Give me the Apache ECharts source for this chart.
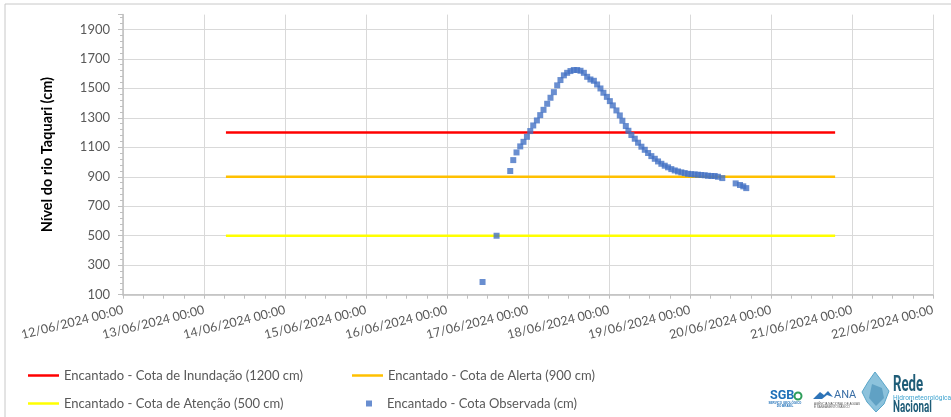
<!DOCTYPE html>
<html>
<head>
<meta charset="utf-8">
<script src="https://cdn.jsdelivr.net/npm/echarts@6/dist/echarts.min.js"></script>
<style>
  html, body { margin: 0; padding: 0; background: #fff; }
  #main { width: 951px; height: 417px; }
</style>
</head>
<body>
<div id="main"></div>
<script>
// cotas (limiares) do posto Encantado
const thresholdNames = [
  'Encantado - Cota de Inundação (1200 cm)',
  'Encantado - Cota de Alerta (900 cm)',
  'Encantado - Cota de Atenção (500 cm)'
];
const thresholdValues = [1200, 900, 500];
const thresholdColors = ['#ff0000', '#ffc000', '#ffff00'];
const thresholdPeriod = ['2024-06-13 06:30', '2024-06-20 19:00'];

const obsName = 'Encantado - Cota Observada (cm)';
const obsTimes = [
  '2024-06-16 10:32', '2024-06-16 14:41', '2024-06-16 18:44', '2024-06-16 19:38',
  '2024-06-16 20:36', '2024-06-16 21:42', '2024-06-16 22:40', '2024-06-16 23:41',
  '2024-06-17 00:40', '2024-06-17 01:33', '2024-06-17 02:38', '2024-06-17 03:37',
  '2024-06-17 04:36', '2024-06-17 05:41', '2024-06-17 06:40', '2024-06-17 07:40',
  '2024-06-17 08:39', '2024-06-17 09:37', '2024-06-17 10:38', '2024-06-17 11:36',
  '2024-06-17 12:35', '2024-06-17 13:35', '2024-06-17 14:34', '2024-06-17 15:33',
  '2024-06-17 16:33', '2024-06-17 17:32', '2024-06-17 18:30', '2024-06-17 19:31',
  '2024-06-17 20:29', '2024-06-17 21:28', '2024-06-17 22:21', '2024-06-17 23:22',
  '2024-06-18 00:15', '2024-06-18 01:08', '2024-06-18 02:12', '2024-06-18 03:12',
  '2024-06-18 03:58', '2024-06-18 04:59', '2024-06-18 05:45', '2024-06-18 06:38',
  '2024-06-18 07:38', '2024-06-18 08:37', '2024-06-18 09:36', '2024-06-18 10:36',
  '2024-06-18 11:35', '2024-06-18 12:33', '2024-06-18 13:34', '2024-06-18 14:32',
  '2024-06-18 15:31', '2024-06-18 16:31', '2024-06-18 17:30', '2024-06-18 18:28',
  '2024-06-18 19:29', '2024-06-18 20:27', '2024-06-18 21:26', '2024-06-18 22:26',
  '2024-06-18 23:25', '2024-06-19 00:24', '2024-06-19 01:24', '2024-06-19 02:23',
  '2024-06-19 03:21', '2024-06-19 04:22', '2024-06-19 05:20', '2024-06-19 06:19',
  '2024-06-19 07:19', '2024-06-19 08:17', '2024-06-19 09:34',
  '2024-06-19 13:32', '2024-06-19 14:49', '2024-06-19 15:47', '2024-06-19 16:40'
];
const obsLevels = [
  186, 500, 939, 1013,
  1065, 1106, 1137, 1171,
  1210, 1248, 1282, 1318,
  1354, 1395, 1436, 1474,
  1520, 1556, 1588, 1605,
  1617, 1624, 1624, 1619,
  1605, 1578, 1560, 1551,
  1526, 1499, 1470, 1442,
  1413, 1384, 1350, 1316,
  1280, 1244, 1212, 1183,
  1158, 1131, 1104, 1083,
  1061, 1040, 1022, 1004,
  988, 975, 964, 952,
  943, 936, 930, 925,
  920, 918, 916, 914,
  912, 910, 907, 905,
  905, 900, 891,
  855, 844, 835, 823
];

const xStart = '2024-06-12 00:00';
const xEnd = '2024-06-22 00:00';
const yMin = 100, yMax = 2000, yStep = 200;

const DAY = 86400000;
function ts(s) { return new Date(s.replace(' ', 'T') + ':00Z').getTime(); }
function pad(n) { return (n < 10 ? '0' : '') + n; }
function fmtDate(v) {
  const d = new Date(v);
  return pad(d.getUTCDate()) + '/' + pad(d.getUTCMonth() + 1) + '/' + d.getUTCFullYear() +
    ' ' + pad(d.getUTCHours()) + ':' + pad(d.getUTCMinutes());
}

const font = 'Lato, "Open Sans", sans-serif';
const gray = '#595959';
const axisGray = '#bfbfbf';
const logoFont = 'Roboto, "Liberation Sans", sans-serif';

let myChart = echarts.init(document.getElementById('main'), null, { renderer: 'canvas' });

let series = thresholdNames.map((name, i) => ({
  name: name,
  type: 'line',
  data: thresholdPeriod.map(t => [ts(t), thresholdValues[i]]),
  showSymbol: false,
  symbol: 'none',
  color: thresholdColors[i],
  lineStyle: { color: thresholdColors[i], width: 2.5 },
  z: 2
}));
series.push({
  name: obsName,
  type: 'scatter',
  data: obsTimes.map((t, i) => [ts(t), obsLevels[i]]),
  symbol: 'rect',
  symbolSize: 6,
  itemStyle: { color: '#4472c4' },
  z: 3
});

function lineLegend(name, left, top) {
  return {
    left: left, top: top,
    padding: 0,
    itemWidth: 31, itemHeight: 2.5,
    icon: 'rect',
    textStyle: { color: gray, fontSize: 13, fontFamily: font },
    selectedMode: false,
    data: [name]
  };
}

let option = {
  animation: false,
  backgroundColor: '#fff',
  textStyle: { fontFamily: font },
  grid: { left: 123, right: 18, top: 14.6, bottom: 122.3, containLabel: false },
  legend: [
    lineLegend(thresholdNames[0], 28, 369),
    lineLegend(thresholdNames[2], 28, 397),
    lineLegend(thresholdNames[1], 352, 369),
    {
      left: 366, top: 397,
      padding: 0,
      itemWidth: 6, itemHeight: 6,
      icon: 'rect',
      textStyle: { color: gray, fontSize: 13, fontFamily: font, padding: [0, 0, 0, 10] },
      selectedMode: false,
      data: [obsName]
    }
  ],
  xAxis: {
    type: 'value',
    min: ts(xStart),
    max: ts(xEnd),
    interval: DAY,
    axisLine: { show: true, lineStyle: { color: axisGray, width: 1.5 } },
    axisTick: { show: true, length: 4, lineStyle: { color: axisGray } },
    minorTick: { show: true, splitNumber: 4, length: 4, lineStyle: { color: axisGray } },
    splitLine: { show: true, lineStyle: { color: '#d9d9d9', width: 1 } },
    axisLabel: {
      rotate: 14,
      margin: 15,
      color: gray,
      fontSize: 12.5,
      fontFamily: font,
      formatter: v => fmtDate(v)
    }
  },
  yAxis: {
    type: 'value',
    min: yMin,
    max: yMax,
    interval: yStep,
    name: 'Nível do rio Taquari (cm)',
    nameLocation: 'middle',
    nameGap: 68,
    nameTextStyle: { color: '#000', fontWeight: 'bold', fontSize: 14.5, fontFamily: font },
    axisLine: { show: true, lineStyle: { color: axisGray, width: 1.5 } },
    axisTick: { show: true, length: 5, lineStyle: { color: axisGray } },
    minorTick: { show: true, splitNumber: 5, length: 3, lineStyle: { color: axisGray } },
    splitLine: { show: true, showMaxLine: false, lineStyle: { color: '#d9d9d9', width: 1 } },
    axisLabel: {
      color: gray,
      fontSize: 13,
      fontFamily: font,
      margin: 13,
      showMaxLabel: false,
      formatter: v => String(v)
    }
  },
  graphic: [
    // moldura do gráfico
    { type: 'line', shape: { x1: 5, y1: 4, x2: 951, y2: 4 }, style: { stroke: '#c8c8c8', lineWidth: 1 } },
    { type: 'line', shape: { x1: 5, y1: 4, x2: 5, y2: 417 }, style: { stroke: '#c8c8c8', lineWidth: 1 } },
    // logos
    { type: 'text', x: 770, y: 390, scaleX: 1.05, style: { text: 'SGB', fill: '#1f70b8', font: 'bold 12px ' + logoFont, verticalAlign: 'top' } },
    { type: 'circle', shape: { cx: 798, cy: 396, r: 3.5 }, style: { fill: 'none', stroke: '#2e9e5b', lineWidth: 2 } },
    { type: 'text', x: 785, y: 402, style: { text: 'SERVIÇO GEOLÓGICO\nDO BRASIL', fill: '#1f70b8', font: 'bold 3px sans-serif', align: 'center', verticalAlign: 'top' } },
    { type: 'polygon', shape: { points: [[813, 399], [820, 392], [824, 395], [828, 391], [833, 397], [827, 395], [822, 399]] }, style: { fill: '#2e74b8' } },
    { type: 'text', x: 834, y: 390, style: { text: 'ANA', fill: '#3a6ea5', font: '11px ' + logoFont, verticalAlign: 'top' } },
    { type: 'text', x: 814, y: 403, style: { text: 'AGÊNCIA NACIONAL DE ÁGUAS\nE SANEAMENTO BÁSICO', fill: '#555', font: '3px sans-serif', verticalAlign: 'top' } },
    { type: 'polygon', shape: { points: [[875, 372], [881, 380], [889, 391], [884, 404], [876, 412], [867, 402], [862, 392], [868, 382]] }, style: { fill: '#8cc2dc', stroke: '#5aa6c9', lineWidth: 1 } },
    { type: 'polygon', shape: { points: [[872, 384], [882, 388], [884, 398], [876, 406], [869, 398]] }, style: { fill: '#3d86b0', opacity: 0.55 } },
    { type: 'text', x: 893, y: 374, scaleX: 0.6, style: { text: 'Rede', fill: '#1f5d78', font: 'bold 22px ' + logoFont, verticalAlign: 'top' } },
    { type: 'text', x: 893, y: 394, scaleX: 0.82, style: { text: 'Hidrometeorológica', fill: '#3fa3cf', font: '8px ' + logoFont, verticalAlign: 'top' } },
    { type: 'text', x: 893, y: 399, scaleX: 0.58, style: { text: 'Nacional', fill: '#1f5d78', font: 'bold 17px ' + logoFont, verticalAlign: 'top' } }
  ],
  series: series
};
myChart.setOption(option);
</script>
</body>
</html>
